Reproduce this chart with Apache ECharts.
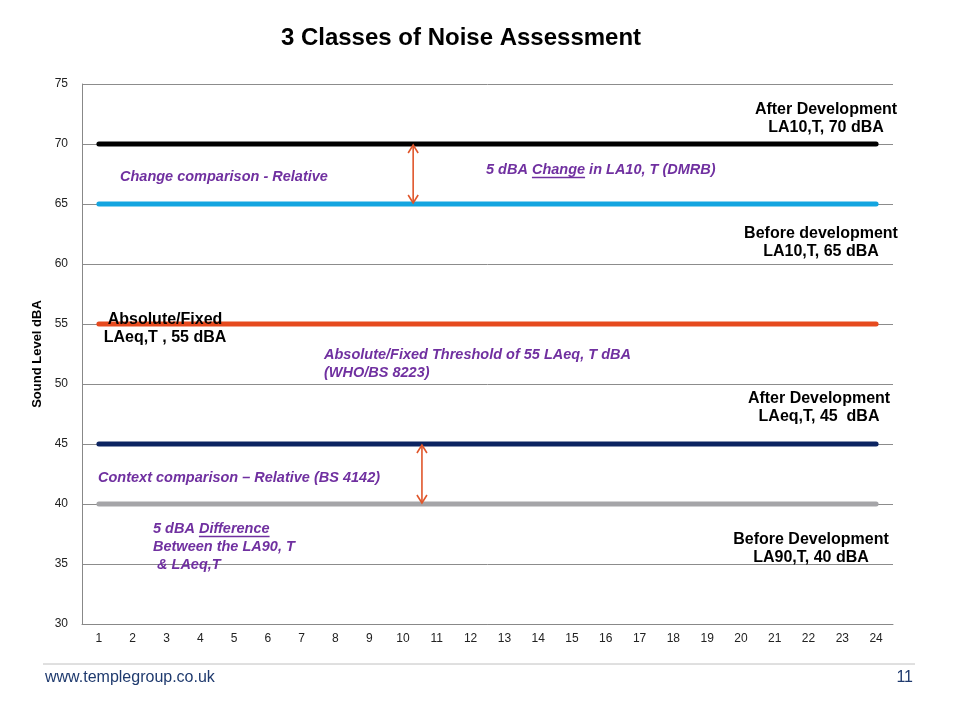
<!DOCTYPE html>
<html><head><meta charset="utf-8">
<script src="https://cdn.jsdelivr.net/npm/echarts@6/dist/echarts.min.js"></script>
<style>html,body{margin:0;padding:0;background:#fff}#c{width:960px;height:720px}</style>
</head><body><div id="c"></div>
<script>
const hours = ['1','2','3','4','5','6','7','8','9','10','11','12','13','14','15','16','17','18','19','20','21','22','23','24'];
const afterLA10  = [70,70,70,70,70,70,70,70,70,70,70,70,70,70,70,70,70,70,70,70,70,70,70,70];
const beforeLA10 = [65,65,65,65,65,65,65,65,65,65,65,65,65,65,65,65,65,65,65,65,65,65,65,65];
const threshold  = [55,55,55,55,55,55,55,55,55,55,55,55,55,55,55,55,55,55,55,55,55,55,55,55];
const afterLAeq  = [45,45,45,45,45,45,45,45,45,45,45,45,45,45,45,45,45,45,45,45,45,45,45,45];
const beforeLA90 = [40,40,40,40,40,40,40,40,40,40,40,40,40,40,40,40,40,40,40,40,40,40,40,40];
// arrows: [x position (hours), from level, to level]
const arrows = [[10.3,70,65],[10.56,45,40]];

const FONT = '"Liberation Sans", Arial, sans-serif';
const PURPLE = '#7030a0';
const ARROW = '#e0562b';
const PSIZE = 14.5;

const chart = echarts.init(document.getElementById('c'));

function lineSeries(name, data, color){
  return {name, type:'line', data, showSymbol:false, symbol:'none', silent:true,
    lineStyle:{color, width:5, cap:'round'}, z:3};
}

const mctx = document.createElement('canvas').getContext('2d');
function tw(text, font){ mctx.font = font; return mctx.measureText(text).width; }

function ptext(text, x, y){
  return {type:'text', z:100, style:{
    text, x, y, fill:PURPLE, fontFamily:FONT, fontSize:PSIZE, fontWeight:'bold', fontStyle:'italic',
    textAlign:'left', textVerticalAlign:'middle'}};
}
function btext(text, x, y){
  return {type:'text', z:100, style:{text, x, y, fill:'#000', fontFamily:FONT, fontSize:16, fontWeight:'bold',
    textAlign:'center', textVerticalAlign:'middle'}};
}
function underline(prefix, word, x, y){
  const f = 'italic bold ' + PSIZE + 'px "Liberation Sans"';
  const x0 = x + tw(prefix, f);
  const x1 = x0 + tw(word, f);
  return {type:'line', z:100, shape:{x1:x0, y1:y, x2:x1, y2:y}, style:{stroke:PURPLE, lineWidth:1.3}};
}

const graphics = [
  ptext('Change comparison - Relative', 120, 177),
  ptext('5 dBA Change in LA10, T (DMRB)', 486, 170),
  underline('5 dBA ', 'Change', 486, 177.5),
  ptext('Absolute/Fixed Threshold of 55 LAeq, T dBA', 324, 355),
  ptext('(WHO/BS 8223)', 324, 373),
  ptext('Context comparison \u2013 Relative (BS 4142)', 98, 478),
  ptext('5 dBA Difference', 153, 529),
  underline('5 dBA ', 'Difference', 153, 536.5),
  ptext('Between the LA90, T', 153, 547),
  ptext(' & LAeq,T', 153, 565),
  btext('Absolute/Fixed', 165, 320),
  btext('LAeq,T , 55 dBA', 165, 338),
  btext('After Development', 826, 110),
  btext('LA10,T, 70 dBA', 826, 128),
  btext('Before development', 821, 234),
  btext('LA10,T, 65 dBA', 821, 252),
  btext('After Development', 819, 399),
  btext('LAeq,T, 45  dBA', 819, 417),
  btext('Before Development', 811, 540),
  btext('LA90,T, 40 dBA', 811, 558),
  {type:'line', shape:{x1:43, y1:664, x2:915, y2:664}, style:{stroke:'#c0c0c0', lineWidth:1}},
  {type:'text', style:{text:'www.templegroup.co.uk', x:45, y:678, fill:'#1f3a6e', fontFamily:FONT, fontSize:16, textVerticalAlign:'middle'}},
  {type:'text', style:{text:'11', x:913, y:678, fill:'#1f3a6e', fontFamily:FONT, fontSize:16, textAlign:'right', textVerticalAlign:'middle'}},
  {type:'text', style:{text:'3 Classes of Noise Assessment', x:461, y:38, fill:'#000', fontFamily:FONT, fontSize:24, fontWeight:'bold', textAlign:'center', textVerticalAlign:'middle'}}
];

chart.setOption({
  animation:false,
  backgroundColor:'#fff',
  grid:{left:82, right:67, top:84, bottom:96},
  xAxis:[
    {type:'category', data:hours, boundaryGap:true,
      axisLine:{lineStyle:{color:'#888'}}, axisTick:{show:false},
      axisLabel:{color:'#222', fontFamily:FONT, fontSize:12, margin:9, interval:0}},
    {type:'value', min:0.5, max:24.5, show:false}
  ],
  yAxis:{type:'value', min:30, max:75, interval:5,
    name:'Sound Level dBA', nameLocation:'middle', nameRotate:90, nameGap:37,
    nameTextStyle:{fontFamily:FONT, fontSize:13, fontWeight:'bold', color:'#000'},
    axisLine:{show:true, lineStyle:{color:'#888'}}, axisTick:{show:false},
    axisLabel:{color:'#222', fontFamily:FONT, fontSize:12, margin:14},
    splitLine:{lineStyle:{color:'#8c8c8c', width:1}}},
  series:[
    lineSeries('After Development LA10,T', afterLA10, '#000000'),
    lineSeries('Before development LA10,T', beforeLA10, '#14a5e0'),
    lineSeries('Absolute/Fixed LAeq,T', threshold, '#e64a1e'),
    lineSeries('After Development LAeq,T', afterLAeq, '#0c2461'),
    lineSeries('Before Development LA90,T', beforeLA90, '#a5a5a8'),
    {type:'custom', xAxisIndex:1, data:arrows, silent:true, z:5,
      renderItem(params, api){
        const x = api.value(0);
        const a = api.coord([x, api.value(1)]);
        const b = api.coord([x, api.value(2)]);
        const h = 8, w = 5;
        const st = {stroke:ARROW, fill:null, lineWidth:1.6};
        return {type:'group', children:[
          {type:'line', shape:{x1:a[0], y1:a[1]+1, x2:b[0], y2:b[1]-1}, style:st},
          {type:'polyline', shape:{points:[[a[0]-w, a[1]+h+1],[a[0], a[1]+1],[a[0]+w, a[1]+h+1]]}, style:st},
          {type:'polyline', shape:{points:[[b[0]-w, b[1]-h-1],[b[0], b[1]-1],[b[0]+w, b[1]-h-1]]}, style:st}
        ]};
      }}
  ],
  graphic:graphics
});
</script></body></html>
